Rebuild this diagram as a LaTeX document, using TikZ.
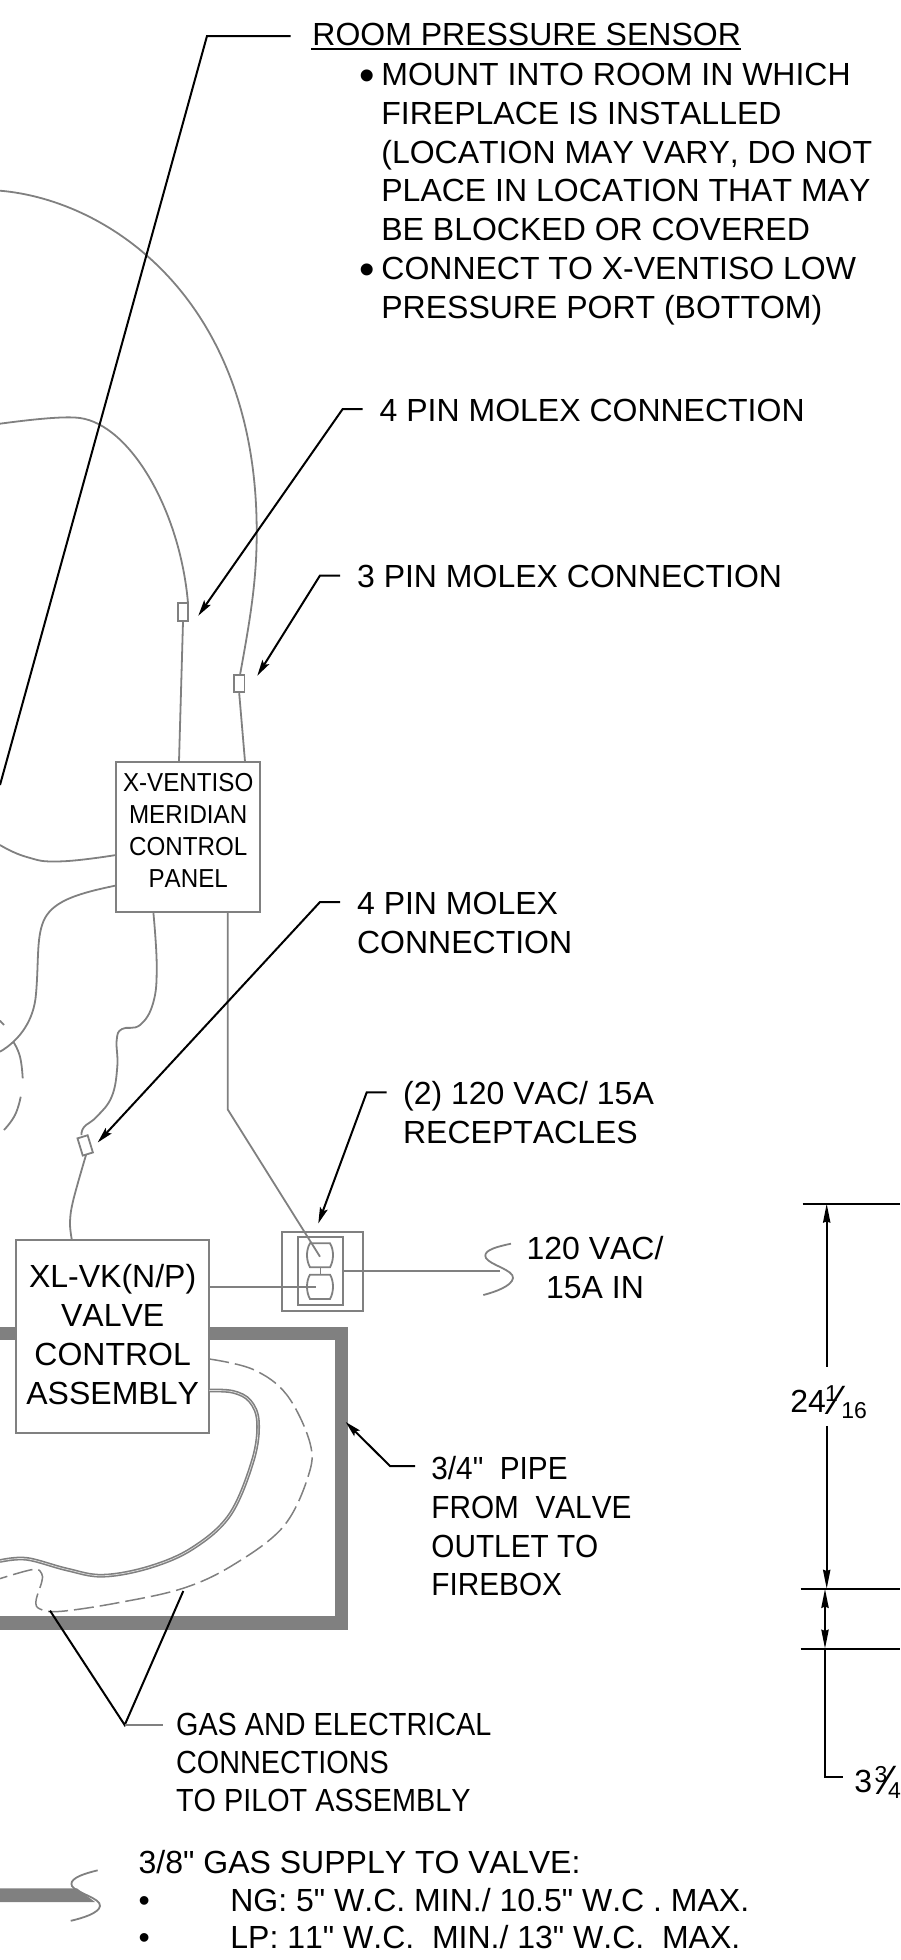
\documentclass[tikz,border=0pt]{standalone}
\usepackage{fontspec}
\usetikzlibrary{arrows.meta,calc}
\newfontfamily\basef[Kerning=Off]{Liberation Sans}
\newfontfamily\narrowf[Kerning=Off,FakeStretch=0.93]{Liberation Sans}
\newfontfamily\gasf[Kerning=Off,FakeStretch=0.9]{Liberation Sans}
\newcommand\firstl{\rule{0pt}{12pt}}
\newcommand\bul{\makebox[10.5pt][l]{\kern-0.5pt\raisebox{-2.6pt}{\fontsize{22}{22}\selectfont •}}}
\newcommand\ind{\hspace*{10.5pt}}
\newcommand\bigbul{\makebox[45.85pt][l]{•}}
% num, den, kern before num, kern before slash, kern before den, raise num, lower den
\newcommand\mfrac[7]{\kern#3pt{\fontsize{11.5}{10}\selectfont\raisebox{#6pt}{#1}}\kern#4pt{\fontsize{20.5}{20}\selectfont\raisebox{-1.2pt}{⁄}}\kern#5pt{\fontsize{11.5}{10}\selectfont\raisebox{#7pt}{#2}}}
\definecolor{wgray}{RGB}{128,128,128}
\tikzset{
  wire/.style={draw=wgray,line width=0.9pt},
  dashwire/.style={draw=wgray,line width=0.75pt,dash pattern=on 10pt off 3pt},
  leader/.style={draw=black,line width=1pt},
  tipped/.style={leader,-{Stealth[length=8pt,width=4pt,inset=1.5pt]}},
  dimline/.style={draw=black,line width=1pt},
  dimtip/.style={dimline,-{Stealth[length=9.5pt,width=3.6pt,inset=0.6pt]}},
  pipe/.style={draw=wgray,line width=6.6pt,line join=miter},
  boxn/.style={draw=wgray,fill=white,line width=0.9pt,inner sep=0pt,align=center},
  conn/.style={draw=wgray,line width=0.9pt,inner sep=0pt,fill=white},
  txt/.style={inner sep=0pt,align=left,anchor=north west,font=\basef\fontsize{16}{19.4}\selectfont},
  ctxt/.style={txt,align=center,anchor=north},
  ntxt/.style={txt,font=\narrowf\fontsize{16}{19.4}\selectfont},
  gtxt/.style={txt,font=\gasf\fontsize{16}{19}\selectfont},
}
\begin{document}
\begin{tikzpicture}[x=0.5pt,y=-0.5pt]
\useasboundingbox (0,0) rectangle (900,1960);
% thick pipe
\draw[pipe] (0,1333.5) -- (341.5,1333.5) -- (341.5,1623) -- (0,1623);
\fill[wgray] (0,1888.4) -- (77,1888.4) -- (95,1902) -- (0,1902) -- cycle;
% boxes
\node[boxn,minimum width=72.15pt,minimum height=74.8pt,font=\narrowf\fontsize{13}{16}\selectfont] (panel) at (188.2,836.8) {X-VENTISO\\MERIDIAN\\CONTROL\\PANEL\rule[-6pt]{0pt}{1pt}};
\node[boxn,minimum width=96.65pt,minimum height=96.5pt,font=\basef\fontsize{16}{19.5}\selectfont] (valve) at (112.65,1336.1) {XL-VK(N/P)\\VALVE\\CONTROL\\ASSEMBLY\rule[-2pt]{0pt}{1pt}};
\node[conn,minimum width=5.2pt,minimum height=8.7pt] (m1) at (239.2,683.6) {};
\node[conn,minimum width=5.3pt,minimum height=9pt] (m2) at (183,612) {};
\node[conn,minimum width=5.3pt,minimum height=9pt,rotate=17] (m3) at (85.2,1145.4) {};
\node[draw=wgray,line width=0.9pt,inner sep=0pt,minimum width=40.8pt,minimum height=39.2pt] (recout) at (322.5,1271.5) {};
\node[draw=wgray,line width=0.9pt,inner sep=0pt,minimum width=22.5pt,minimum height=33.85pt] (recin) at (320.2,1271.2) {};
% outlets
\draw[wire] (310,1243.3) -- (330,1243.3) .. controls (334,1250) and (334,1260) .. (330,1267.3) -- (310,1267.3) .. controls (306,1260) and (306,1250) .. (310,1243.3) -- cycle;
\draw[wire] (310,1274.7) -- (330,1274.7) .. controls (334,1281) and (334,1292) .. (330,1299) -- (310,1299) .. controls (306,1292) and (306,1281) .. (310,1274.7) -- cycle;
\draw[wire,line width=0.4pt] (320,1267.3) -- (320,1274.7);
% wires
\draw[wire] (0,190.7) .. controls (110,200) and (256,300) .. (256.7,530) .. controls (257,580) and (250,620) .. (240,675);
\draw[wire] (m1.south) -- (245,761.5);
\draw[wire] (0,423.7) .. controls (35,419) and (65,416) .. (80,418) .. controls (130,425) and (180,510) .. (188,603);
\draw[wire] (m2.south) -- (179,761.5);
\draw[wire] plot[smooth,tension=0.8] coordinates {(116,855) (60,861.4) (26.7,857) (0,845)};
\draw[wire] (116,885.5) .. controls (80,893) and (55,900) .. (45,918) .. controls (36,935) and (39,960) .. (36,994) .. controls (34,1020) and (20,1040) .. (0,1051.7);
\draw[wire] (0,1020.7) -- (4,1025);
\draw[wire] plot[smooth,tension=0.8] coordinates {(13.3,1041.7) (20,1056.7) (22.7,1078.3)};
\draw[wire] plot[smooth,tension=0.8] coordinates {(20.7,1096.7) (15,1115) (4,1130)};
\draw[wire] plot[smooth,tension=0.7] coordinates {(153.3,911.6) (156.7,965) (153.3,1002.4) (140,1025) (122,1029) (116.7,1040) (117.3,1066.7) (111.7,1096.7) (96.7,1116.7) (84,1127) (81.5,1135)};
\draw[wire] plot[smooth,tension=0.6] coordinates {(86,1155) (73.3,1200) (70,1222) (71.7,1239)};
\coordinate (recline) at (320,1256.7);
\draw[wire] (panel.south -| 227.7,0) -- (227.7,1109.4) -- (recline);
\coordinate (o2end) at (316,1287.3);
\draw[wire] (valve.east |- o2end) -- (o2end);
\coordinate (inend) at (500,1271.3);
\draw[wire] (recin.east |- inend) -- (inend);
\draw[wire] (511,1243.7) .. controls (490,1248) and (483,1252) .. (486,1258) .. controls (490,1265) and (514,1270) .. (513,1278) .. controls (512,1286) and (495,1292) .. (483.3,1295);
\draw[wire] (97.7,1870.3) .. controls (78,1875) and (69,1880) .. (72,1886) .. controls (76,1893) and (101,1898) .. (100,1906) .. controls (99,1913) and (83,1918) .. (70.7,1920.8);
% gas line and dashed electrical line
\draw[draw=wgray,line width=1.9pt] plot[smooth,tension=0.6] coordinates {(209.3,1390.5) (233,1391.8) (250,1401) (258,1422) (253,1460) (230,1514.6) (193,1548) (150,1567) (103,1575.7) (66.7,1569.4) (26.7,1558.8) (0,1561)};
\draw[draw=white!75!wgray,line width=0.35pt] plot[smooth,tension=0.6] coordinates {(209.3,1390.5) (233,1391.8) (250,1401) (258,1422) (253,1460) (230,1514.6) (193,1548) (150,1567) (103,1575.7) (66.7,1569.4) (26.7,1558.8) (0,1561)};
\draw[dashwire] plot[smooth,tension=0.6] coordinates {(209.3,1359) (253,1369.4) (286.7,1394.7) (310,1443) (308,1476.8) (283,1527) (233,1565) (183,1588.3) (116.7,1603) (60,1611.4) (40,1609) (36,1601) (41.7,1582) (41.7,1573.6) (33.3,1569.4) (0,1578.6)};
% text
\node[txt] (room) at (312,20.8) {\firstl ROOM PRESSURE SENSOR};
\draw[leader,line width=0.8pt] (room.south west) ++(-1,3) coordinate (ul1) -- (ul1 -| room.south east);
\node[txt] (notes) at (360,61) {\firstl\bul MOUNT INTO ROOM IN WHICH\\\ind FIREPLACE IS INSTALLED\\\ind (LOCATION MAY VARY, DO NOT\\\ind PLACE IN LOCATION THAT MAY\\\ind BE BLOCKED OR COVERED\\\bul CONNECT TO X-VENTISO LOW\\\ind PRESSURE PORT (BOTTOM)};
\node[txt] (t4a) at (379.3,396.8) {\firstl 4 PIN MOLEX CONNECTION};
\node[txt] (t3) at (356.7,562.7) {\firstl 3 PIN MOLEX CONNECTION};
\node[txt] (t4b) at (356.7,890.5) {\firstl 4 PIN MOLEX\\CONNECTION};
\node[txt] (trec) at (402.7,1080) {\firstl (2) 120 VAC/ 15A\\RECEPTACLES};
\node[ctxt] (t120) at (595,1235.4) {\firstl 120 VAC/\\15A IN};
\node[ntxt] (tpipe) at (431,1455) {\firstl 3/4"\ \ PIPE\\FROM\ \ VALVE\\OUTLET TO\\FIREBOX};
\node[gtxt] (tgas) at (175.7,1710.8) {\firstl GAS AND ELECTRICAL\\CONNECTIONS\\TO PILOT ASSEMBLY};
\node[txt,font=\basef\fontsize{16}{18.75}\selectfont] (tsup) at (138.3,1849.3) {\firstl 3/8" GAS SUPPLY TO VALVE:\\\bigbul NG: 5" W.C. MIN./ 10.5" W.C . MAX.\\\bigbul LP: 11" W.C.\ \ MIN./ 13" W.C.\ \ MAX.};
\node[txt] (d24) at (790,1385) {\firstl 24\mfrac{1}{16}{-0.5}{-2.3}{0.7}{5.5}{-3.3}};
\node[txt] (d3) at (854,1766) {\firstl 3\mfrac{3}{4}{1.2}{-1.3}{-1.7}{5}{-3}};
% leaders
\coordinate (a1) at (290.7,36); \coordinate (a2) at (207,36); \coordinate (a3) at (0,785);
\draw[leader] (a1) -- (a2) -- (a3);
\coordinate (b1) at (362.7,409); \coordinate (b2) at (342.7,409); \coordinate (b3) at (198.3,615.7);
\draw[tipped] (b1) -- (b2) -- (b3);
\coordinate (c1) at (340,575.5); \coordinate (c2) at (320,575.5); \coordinate (c3) at (257.3,675.7);
\draw[tipped] (c1) -- (c2) -- (c3);
\coordinate (e1) at (340,902); \coordinate (e2) at (320,902); \coordinate (e3) at (97.7,1142.5);
\draw[tipped] (e1) -- (e2) -- (e3);
\coordinate (f1) at (386.7,1092.4); \coordinate (f2) at (366.7,1092.4); \coordinate (f3) at (318.3,1223.4);
\draw[tipped] (f1) -- (f2) -- (f3);
\coordinate (g1) at (415,1466); \coordinate (g2) at (390,1466); \coordinate (g3) at (345.7,1422);
\draw[tipped] (g1) -- (g2) -- (g3);
\coordinate (h0) at (124.7,1725); \coordinate (h1) at (50,1610.6); \coordinate (h2) at (183.3,1591); \coordinate (h3) at (163.3,1725);
\draw[leader] (h1) -- (h0) -- (h2);
\draw[wire] (h0) -- (h3);
% dimensions
\coordinate (x1) at (802.7,1203.6); \coordinate (x1e) at (900,1203.6);
\coordinate (x2) at (800.7,1588.8); \coordinate (x2e) at (900,1588.8);
\coordinate (x3) at (800.7,1648.7); \coordinate (x3e) at (900,1648.7);
\draw[dimline] (x1) -- (x1e);
\draw[dimline] (x2) -- (x2e);
\draw[dimline] (x3) -- (x3e);
\coordinate (u1) at (826.7,1203.6); \coordinate (u2) at (826.7,1366.5); \coordinate (u3) at (826.7,1425.9); \coordinate (u4) at (826.7,1588.8);
\draw[dimtip] (u2) -- (u1);
\draw[dimtip] (u3) -- (u4);
\coordinate (v1) at (825,1588.8); \coordinate (v2) at (825,1648.7); \coordinate (v3) at (825,1620); \coordinate (v4) at (825,1777.2); \coordinate (v5) at (843.3,1777.2);
\draw[dimtip] (v3) -- (v1);
\draw[dimtip] (v3) -- (v2);
\draw[dimline] (v2) -- (v4) -- (v5);
\end{tikzpicture}
\end{document}
